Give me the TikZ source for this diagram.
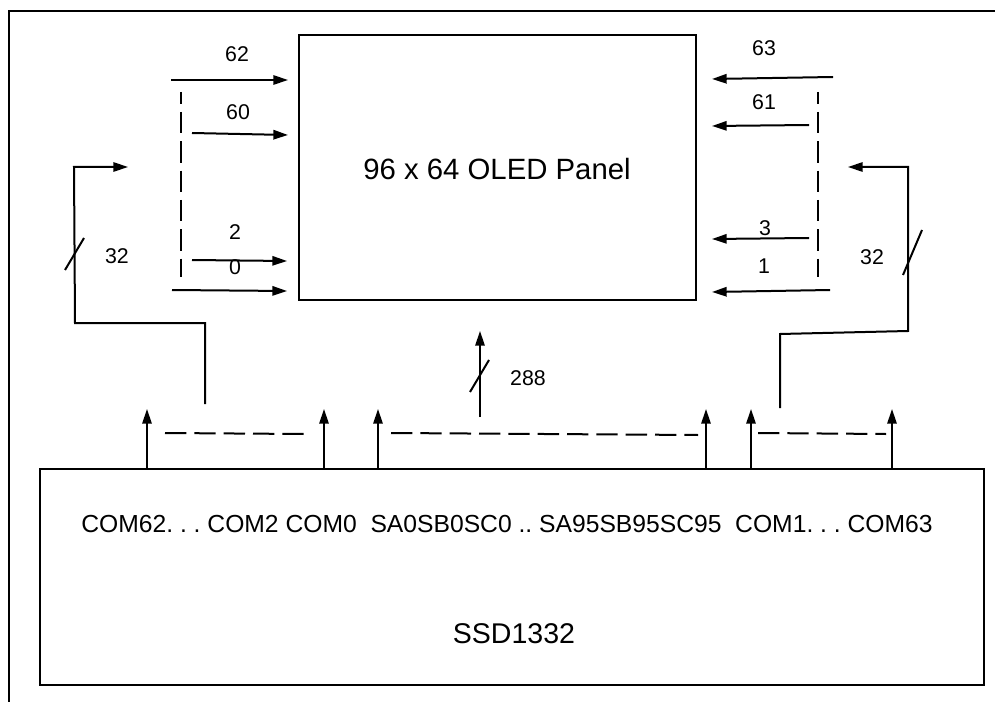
\documentclass[tikz,border=0pt]{standalone}
\usepackage{fontspec}
\setmainfont{Liberation Sans}
\usetikzlibrary{arrows.meta}
\tikzset{
  ln/.style={line width=1.5pt},
  arr/.style={line width=1.5pt,-{Triangle[length=11pt,width=7pt]}},
  dsh/.style={line width=1.5pt,dash pattern=on 16pt off 6pt},
  vdsh/.style={line width=1.5pt,dash pattern=on 16pt off 6pt,dash phase=7pt},
  lbl/.style={font=\fontsize{16}{19}\selectfont,inner sep=0pt},
  box/.style={draw,line width=1.3pt,inner sep=0pt}
}
\begin{document}
\begin{tikzpicture}[x=0.75pt,y=-0.75pt]
\useasboundingbox (0,0) rectangle (995,702);
% outer frame (cropped)
\draw[line width=1.5pt] (9,705) -- (9,11) -- (998,11);
% panel
\node[box,minimum width=297.75pt,minimum height=198.75pt] (panel) at (497.5,167.5) {};
\node[font=\fontsize{22}{26}\selectfont,inner sep=0pt] (ptext) at (497,169) {96 x 64 OLED Panel};
% driver
\node[box,line width=1.6pt,minimum width=708pt,minimum height=162pt] (ssd) at (512,577) {};
\node[font=\fontsize{18.5}{22}\selectfont,inner sep=0pt] (pins) at (507,524) {COM62.\ .\ .\ COM2 COM0\ \ SA0SB0SC0 ..\ SA95SB95SC95\ \ COM1.\ .\ .\ COM63};
\node[font=\fontsize{21.4}{25}\selectfont,inner sep=0pt] (chip) at (514,634) {SSD1332};
% left side row arrows
\coordinate (l62) at (171,80);  \coordinate (l62e) at (288,80);
\coordinate (l60) at (192,133); \coordinate (l60e) at (288,135);
\coordinate (l2) at (192,260);  \coordinate (l2e) at (287,261);
\coordinate (l0) at (172,290);  \coordinate (l0e) at (287,291);
\draw[arr] (l62) -- (l62e);
\draw[arr] (l60) -- (l60e);
\draw[arr] (l2) -- (l2e);
\draw[arr] (l0) -- (l0e);
\node[lbl] (t62) at (237,54) {62};
\node[lbl] (t60) at (238,112) {60};
\node[lbl] (t2) at (235,232) {2};
\node[lbl] (t0) at (235,267) {0};
\coordinate (ld1) at (181,92); \coordinate (ld2) at (181,277);
\draw[vdsh] (ld1) -- (ld2);
% right side row arrows
\coordinate (r63) at (833,77);  \coordinate (r63e) at (712,79);
\coordinate (r61) at (809,125); \coordinate (r61e) at (712,126);
\coordinate (r3) at (809,238);  \coordinate (r3e) at (712,239);
\coordinate (r1) at (830,290);  \coordinate (r1e) at (712,292);
\draw[arr] (r63) -- (r63e);
\draw[arr] (r61) -- (r61e);
\draw[arr] (r3) -- (r3e);
\draw[arr] (r1) -- (r1e);
\node[lbl] (t63) at (764,48) {63};
\node[lbl] (t61) at (764,102) {61};
\node[lbl] (t3) at (765,228) {3};
\node[lbl] (t1) at (764,266) {1};
\coordinate (rd1) at (818,92); \coordinate (rd2) at (818,277);
\draw[vdsh] (rd1) -- (rd2);
% left bus
\coordinate (lb0) at (205,404); \coordinate (lb1) at (128,167);
\draw[arr] (lb0) -- (205,323) -- (75,323) -- (74,167) -- (lb1);
\draw[ln] (65,270) -- (84,238);
\node[lbl] (t32l) at (117,256) {32};
% right bus
\coordinate (rb0) at (780,408); \coordinate (rb1) at (848,167);
\draw[arr] (rb0) -- (780,334) -- (908,331) -- (908,167) -- (rb1);
\draw[ln] (903,275) -- (922,230);
\node[lbl] (t32r) at (872,257) {32};
% chip output arrows
\foreach \x/\n in {147/a,324/b,378/c,706/d,751/e,892/f}{
  \coordinate (o\n) at (\x,469);
  \coordinate (o\n t) at (\x,409);
  \draw[arr] (o\n) -- (o\n t);
}
\draw[dsh] (165,433) -- (304,434);
\draw[dsh] (391,433) -- (698,435);
\draw[dsh] (758,433) -- (886,434);
% 288 bus
\coordinate (c0) at (480,417); \coordinate (c1) at (480,331);
\draw[arr] (c0) -- (c1);
\draw[ln] (470,392) -- (489,360);
\node[lbl] (t288) at (528,378) {288};
\end{tikzpicture}
\end{document}
